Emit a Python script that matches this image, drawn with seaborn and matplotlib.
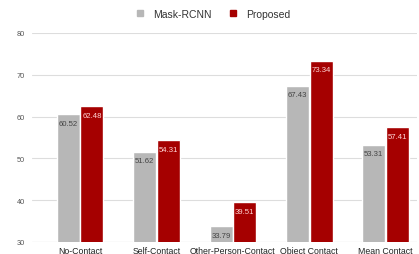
import matplotlib
matplotlib.use("Agg")
import matplotlib.pyplot as plt
import seaborn as sns
import pandas as pd
from matplotlib.lines import Line2D

categories = ["No-Contact", "Self-Contact", "Other-Person-Contact", "Object Contact", "Mean Contact"]
mask_rcnn = [60.52, 51.62, 33.79, 67.43, 53.31]
proposed = [62.48, 54.31, 39.51, 73.34, 57.41]
series = ["Mask-RCNN", "Proposed"]
yticks = [30, 40, 50, 60, 70, 80]

df = pd.DataFrame({
    "cat": categories * 2,
    "val": mask_rcnn + proposed,
    "series": [series[0]] * 5 + [series[1]] * 5,
})

sns.set_theme(style="white")
plt.rcParams['font.family'] = ['Liberation Sans', 'DejaVu Sans']

fig = plt.figure(figsize=(4.19, 2.55), dpi=100)
ax = fig.add_axes([32 / 419, 12 / 255, (417 - 32) / 419, (243 - 34) / 255])

palette = {"Mask-RCNN": "#b7b7b7", "Proposed": "#a50000"}
sns.barplot(data=df, x="cat", y="val", hue="series", palette=palette,
            width=0.62, gap=0.03, ax=ax, legend=False, saturation=1)

ax.set_ylim(30, 80)
ax.set_xlim(-0.63, 4.41)
ax.set_yticks(yticks)
ax.set_yticklabels([str(t) for t in yticks], fontsize=5.3, color="#555555")
ax.tick_params(axis="y", length=0, pad=5)
ax.tick_params(axis="x", length=0, pad=3, labelsize=6.3, labelcolor="#222222")
ax.set_xlabel("")
ax.set_ylabel("")
ax.grid(axis="y", color="#dddddd", linewidth=0.8)
ax.set_axisbelow(True)
for s in ax.spines.values():
    s.set_visible(False)
ax.axhline(30, color="#cccccc", linewidth=0.8, zorder=0)

for cont, col in zip(ax.containers, ["#444444", "#ffd6d6"]):
    ax.bar_label(cont, fmt="%.2f", padding=-9, fontsize=5.6, color=col)

handles = [Line2D([], [], marker="s", linestyle="", markersize=5, color=palette[s]) for s in series]
fig.legend(handles, series, loc="center", bbox_to_anchor=(210 / 419, 1 - 15 / 255),
           ncol=2, frameon=False, fontsize=7.5, handletextpad=0.3, columnspacing=1.0,
           labelcolor="#333333")

fig.savefig("out.png", dpi=100)
